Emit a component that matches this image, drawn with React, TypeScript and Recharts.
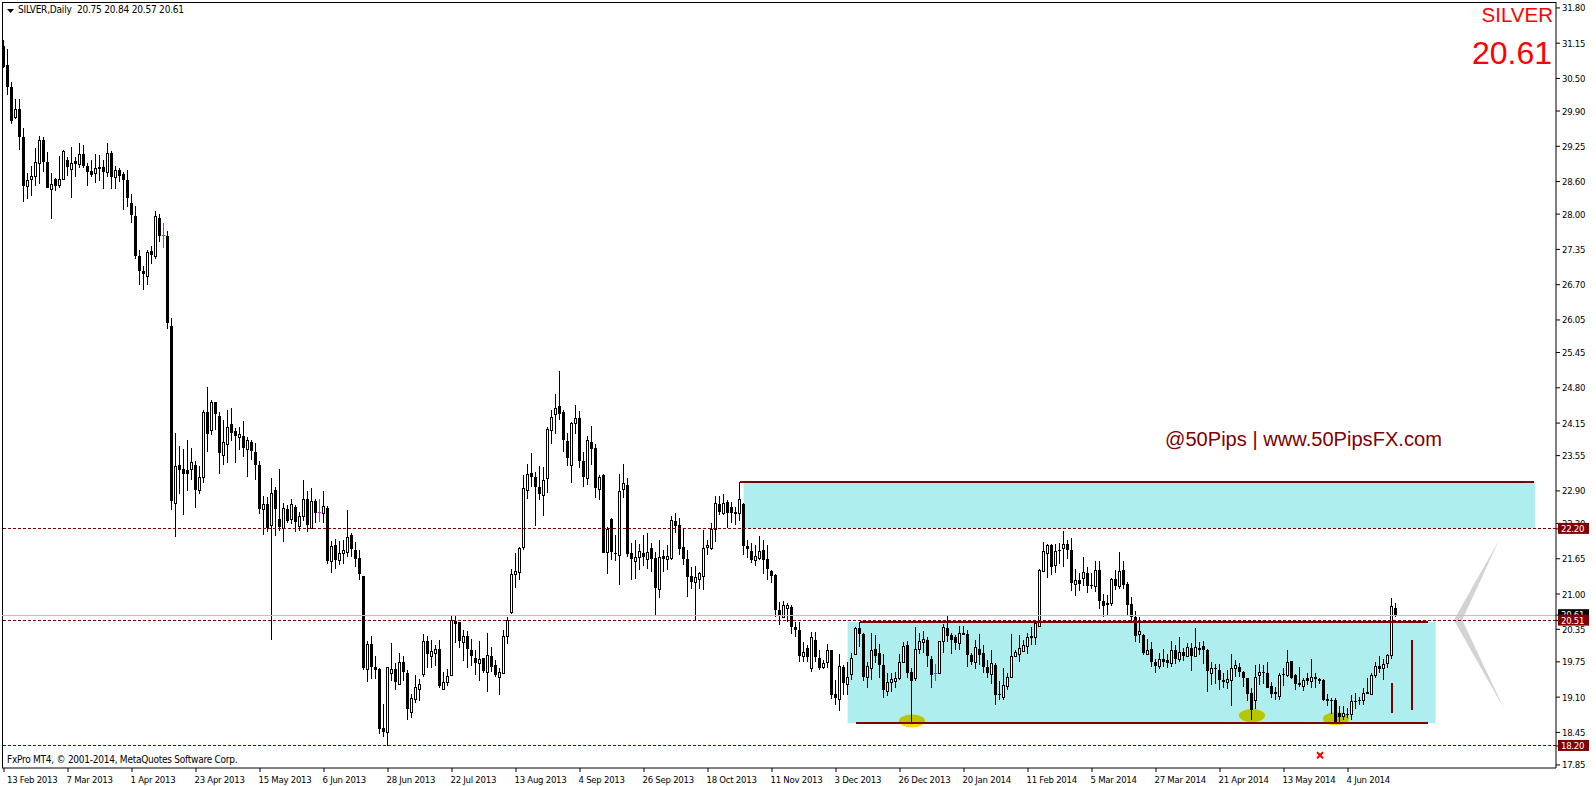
import React from 'react';
import {
  ComposedChart,
  Bar,
  XAxis,
  YAxis,
  ReferenceArea,
  ReferenceDot,
  ReferenceLine,
} from 'recharts';

const opens = [
  31.10,30.75,30.34,29.79,29.93,29.42,28.51,28.64,28.71,28.94,
  29.36,28.96,28.47,28.64,28.54,28.64,29.00,28.84,28.98,28.93,
  29.10,28.89,28.80,28.75,28.86,28.86,28.77,29.13,28.69,28.81,
  28.74,28.63,28.20,27.97,27.23,26.95,26.86,27.32,27.23,27.92,
  27.62,27.60,25.94,22.67,23.37,23.30,23.29,23.31,23.37,22.92,
  23.15,24.35,24.03,24.53,24.28,23.57,23.77,24.13,24.00,23.90,
  23.92,23.68,23.81,23.62,23.38,22.57,22.66,22.27,22.92,22.38,
  22.22,22.56,22.38,22.60,22.26,22.43,22.75,22.22,22.71,22.52,
  22.50,22.58,21.60,21.90,21.62,21.75,21.78,22.09,21.81,21.67,
  21.33,19.61,20.07,19.65,19.62,18.53,18.45,19.55,19.61,19.34,
  19.74,19.54,18.83,19.07,19.25,19.52,20.14,19.85,19.91,19.98,
  19.25,19.37,19.50,20.51,20.49,20.12,20.22,19.96,19.82,19.72,
  19.82,19.57,19.86,19.69,19.48,19.54,20.22,20.66,21.36,21.40,
  21.86,22.91,23.23,23.16,22.97,22.82,23.13,24.02,24.31,24.46,
  24.35,23.82,23.37,24.16,24.24,23.45,23.13,23.80,23.69,22.94,
  23.19,21.78,22.38,21.75,21.71,22.93,23.01,21.75,21.60,21.69,
  21.75,21.65,21.84,21.66,21.10,21.70,21.65,21.67,22.35,22.27,
  21.87,21.65,21.33,21.23,21.27,21.34,21.86,21.84,22.19,22.66,
  22.50,22.70,22.61,22.51,22.49,22.66,21.89,21.79,21.62,21.67,
  21.81,21.64,21.42,21.35,20.71,20.58,20.75,20.76,20.39,20.34,
  19.85,20.00,19.64,20.15,19.82,19.66,19.74,19.96,19.15,19.07,
  19.65,19.35,19.53,19.89,20.37,20.26,19.48,19.63,19.98,19.91,
  19.70,19.22,19.37,19.40,19.46,19.75,20.06,19.56,19.45,19.98,
  20.12,20.15,19.80,19.54,19.54,20.13,20.38,20.24,20.21,20.10,
  20.28,20.26,19.87,19.74,19.98,19.91,19.65,19.53,19.69,19.16,
  19.11,19.31,19.48,19.85,19.90,19.95,20.05,20.20,20.21,20.41,
  21.43,21.76,21.91,21.53,21.81,21.85,21.93,21.82,21.19,21.25,
  21.30,21.39,21.16,21.15,21.44,20.87,20.83,20.84,21.27,21.15,
  21.45,21.19,20.81,20.58,20.26,20.24,19.90,19.98,19.74,19.68,
  19.80,19.78,19.72,19.96,19.81,19.93,19.85,20.01,19.85,20.00,
  20.04,19.97,19.55,19.64,19.60,19.41,19.38,19.42,19.63,19.65,
  19.56,19.45,19.18,19.05,19.50,19.57,19.55,19.30,19.19,19.12,
  19.53,19.51,19.77,19.51,19.36,19.31,19.45,19.40,19.47,19.43,
  19.41,19.06,19.05,19.04,18.80,18.76,18.79,18.78,19.03,19.05,
  19.05,19.19,19.16,19.51,19.67,19.64,19.72,19.88,20.75,
];

const highs = [
  31.21,31.04,30.43,30.13,30.12,29.58,28.75,28.89,29.21,29.44,
  29.42,29.15,28.75,28.66,29.07,29.18,29.05,29.24,29.06,29.32,
  29.27,28.94,29.00,29.10,29.09,29.00,29.31,29.16,28.89,28.85,
  28.78,28.81,28.38,28.15,27.33,27.05,27.33,27.41,28.06,28.00,
  27.83,27.69,26.08,23.96,23.73,23.67,23.84,23.69,23.45,23.36,
  24.39,24.82,24.58,24.54,24.35,24.21,24.39,24.42,24.05,24.07,
  24.19,23.89,23.83,23.78,23.46,22.81,22.78,23.13,22.97,23.30,
  22.67,22.64,22.75,22.64,22.52,23.10,22.90,22.95,22.76,22.75,
  22.90,22.62,21.98,22.01,21.98,22.00,22.55,22.12,21.95,21.81,
  21.33,20.13,20.23,19.86,19.63,18.98,19.66,20.09,19.72,19.91,
  19.86,19.60,19.16,19.51,19.43,20.26,20.23,20.15,20.06,20.15,
  19.57,19.61,20.60,20.60,20.49,20.33,20.32,20.17,19.97,20.13,
  19.82,20.28,20.02,19.79,19.63,20.34,20.58,21.46,21.75,21.86,
  23.19,23.39,23.59,23.25,23.35,23.34,24.07,24.40,24.68,25.11,
  24.40,23.97,24.17,24.48,24.37,23.62,23.91,24.10,23.76,23.19,
  23.21,22.24,22.40,22.09,23.21,23.39,23.13,21.94,22.00,21.92,
  22.09,22.12,21.94,21.77,21.99,21.81,21.90,22.43,22.49,22.40,
  22.20,21.81,21.50,21.52,21.41,22.18,22.00,22.30,22.81,22.81,
  22.84,22.73,22.70,22.61,23.07,22.67,22.00,21.94,21.90,22.06,
  22.00,21.90,21.44,21.37,20.86,20.88,20.83,20.80,20.49,20.48,
  20.11,20.06,20.30,20.30,19.97,19.78,20.07,19.97,19.42,19.90,
  19.70,19.75,19.92,20.39,20.48,20.28,19.74,20.28,20.25,20.08,
  19.89,19.54,19.54,19.57,19.90,20.12,20.13,19.63,20.40,20.28,
  20.31,20.21,19.86,19.71,20.14,20.45,20.60,20.28,20.25,20.41,
  20.41,20.33,19.92,20.15,20.26,20.06,19.78,19.97,19.72,19.40,
  19.63,19.54,20.26,19.97,20.25,20.15,20.28,20.40,20.52,21.46,
  21.95,21.93,21.93,21.92,21.94,22.16,21.99,22.03,21.47,21.38,
  21.69,21.49,21.39,21.60,21.60,21.00,20.98,21.29,21.44,21.77,
  21.61,21.22,20.94,20.69,20.57,20.26,20.18,20.12,19.81,19.91,
  19.98,19.90,20.14,20.06,20.21,20.00,20.09,20.09,20.37,20.12,
  20.13,19.98,19.75,19.71,19.71,19.54,19.60,19.89,19.78,19.72,
  19.59,19.45,19.27,19.69,19.71,19.69,19.74,19.37,19.29,19.54,
  19.63,19.97,19.77,19.53,19.66,19.45,19.55,19.80,19.54,19.46,
  19.43,19.15,19.09,19.08,18.93,18.93,18.90,19.13,19.17,19.11,
  19.26,19.45,19.54,19.74,19.85,19.81,19.89,20.92,20.84,
];

const lows = [
  30.69,30.20,29.66,29.75,29.18,28.23,28.28,28.34,28.51,28.56,
  28.78,28.48,27.91,28.42,28.49,28.63,28.71,28.30,28.69,28.85,
  28.85,28.52,28.69,28.58,28.61,28.47,28.69,28.47,28.47,28.60,
  28.08,28.14,27.84,27.17,26.70,26.60,26.70,27.09,27.17,27.49,
  27.38,25.88,22.55,22.05,22.84,22.46,22.89,23.10,22.59,22.84,
  23.05,23.62,23.93,24.02,23.21,23.38,23.42,23.82,23.42,23.66,
  23.53,23.16,23.47,23.10,22.47,22.09,22.15,20.15,22.06,22.17,
  21.95,22.30,22.29,22.15,22.16,22.35,22.15,22.19,22.30,22.32,
  22.30,21.55,21.39,21.47,21.54,21.55,21.68,21.68,21.50,21.25,
  19.60,19.37,19.43,19.43,18.42,18.37,18.20,19.39,19.23,19.34,
  19.40,18.68,18.71,18.99,19.02,19.48,19.64,19.63,19.68,19.26,
  19.24,19.31,19.49,20.10,20.00,19.77,19.64,19.68,19.51,19.39,
  19.54,19.20,19.56,19.48,19.14,19.52,20.08,20.63,21.12,21.26,
  21.81,22.75,22.97,22.26,22.73,22.43,22.87,23.77,23.95,24.21,
  23.62,23.36,23.05,23.95,23.33,22.98,23.01,23.38,22.77,22.73,
  21.75,21.37,21.62,21.60,21.17,22.77,21.68,21.26,21.27,21.45,
  21.51,21.46,21.41,20.59,20.93,21.41,21.44,21.62,22.12,21.72,
  21.54,20.95,21.09,20.50,21.09,21.08,21.71,21.81,21.95,22.46,
  22.46,22.22,22.30,22.27,22.35,21.72,21.66,21.57,21.52,21.62,
  21.37,21.26,21.21,20.57,20.42,20.56,20.49,20.26,20.20,19.75,
  19.75,19.74,19.57,19.74,19.60,19.62,19.63,19.07,18.95,18.85,
  19.14,19.14,19.42,19.88,20.03,19.40,19.27,19.42,19.72,19.45,
  19.09,19.12,19.20,19.26,19.42,19.72,19.45,18.63,19.40,19.89,
  19.91,19.66,19.27,19.39,19.53,19.91,20.12,19.90,19.96,19.96,
  20.24,19.66,19.69,19.61,19.69,19.54,19.45,19.35,18.96,19.05,
  19.05,19.23,19.47,19.84,19.74,19.95,19.90,20.06,20.06,20.41,
  21.42,21.30,21.35,21.38,21.55,21.50,21.65,21.06,20.97,21.06,
  21.14,21.02,21.09,21.04,20.72,20.58,20.61,20.78,21.07,21.09,
  21.10,20.60,20.49,20.11,20.10,19.87,19.87,19.66,19.55,19.62,
  19.66,19.63,19.66,19.71,19.75,19.77,19.84,19.58,19.84,19.87,
  19.71,19.20,19.32,19.35,19.23,19.26,19.25,18.93,19.48,19.48,
  19.29,19.02,18.67,18.88,19.32,19.35,19.26,19.08,19.04,19.04,
  19.30,19.48,19.44,19.23,19.29,19.21,19.32,19.26,19.26,19.34,
  19.02,18.93,18.79,18.64,18.64,18.68,18.71,18.68,18.88,18.96,
  18.96,19.15,19.15,19.45,19.54,19.42,19.63,19.80,20.57,
];

const closes = [
  30.72,30.35,29.72,29.93,29.43,28.51,28.63,28.71,28.96,29.36,
  28.96,28.49,28.56,28.51,28.64,29.17,28.86,28.94,28.93,29.10,
  28.88,28.77,28.72,28.85,28.84,28.78,29.12,28.69,28.81,28.71,
  28.63,28.30,27.99,27.23,26.96,26.90,27.30,27.25,27.97,27.59,
  27.62,26.00,22.72,23.35,23.29,23.22,23.22,23.43,22.92,23.15,
  24.35,23.94,24.53,24.31,23.60,23.81,24.07,23.97,23.92,23.94,
  23.69,23.83,23.64,23.38,22.57,22.65,22.22,22.87,22.56,22.24,
  22.58,22.35,22.66,22.32,22.44,22.75,22.27,22.71,22.50,22.52,
  22.62,21.60,21.88,21.63,21.75,21.81,22.05,21.83,21.64,21.37,
  19.64,20.07,19.66,19.60,18.51,18.45,19.65,19.61,19.37,19.75,
  19.56,18.89,19.08,19.28,19.34,20.13,19.90,19.95,19.98,19.31,
  19.37,19.49,20.52,20.45,20.14,20.22,19.98,19.85,19.72,19.81,
  19.58,19.87,19.66,19.50,19.56,20.23,20.52,21.37,21.43,21.84,
  22.95,23.21,23.15,22.97,22.85,23.10,24.04,24.27,24.42,24.31,
  23.83,23.50,24.16,24.24,23.46,23.15,23.83,23.68,22.96,23.15,
  21.76,22.19,21.78,21.73,22.89,23.04,21.74,21.64,21.68,21.79,
  21.68,21.77,21.65,21.11,21.68,21.64,21.70,22.36,22.25,21.83,
  21.65,21.32,21.22,21.32,21.38,21.84,21.90,22.19,22.67,22.51,
  22.68,22.50,22.49,22.48,22.75,21.89,21.83,21.63,21.70,21.79,
  21.63,21.46,21.33,20.71,20.60,20.79,20.79,20.39,20.34,19.85,
  19.93,19.84,20.20,19.84,19.64,19.72,19.96,19.14,19.08,19.67,
  19.36,19.48,19.83,20.37,20.26,19.48,19.67,19.96,19.86,19.70,
  19.23,19.37,19.43,19.45,19.74,20.05,19.55,19.39,19.98,20.13,
  20.17,19.85,19.50,19.54,20.13,20.39,20.23,20.15,20.09,20.28,
  20.25,19.88,19.74,20.02,19.88,19.66,19.54,19.72,19.14,19.14,
  19.32,19.47,19.85,19.93,20.00,20.06,20.20,20.23,20.46,21.45,
  21.79,21.90,21.50,21.79,21.79,21.93,21.81,21.21,21.25,21.19,
  21.40,21.15,21.15,21.45,20.88,20.78,20.80,21.27,21.15,21.42,
  21.16,20.80,20.58,20.23,20.31,19.91,19.97,19.74,19.68,19.80,
  19.74,19.72,19.96,19.81,19.94,19.85,20.02,19.85,20.02,19.97,
  19.96,19.58,19.64,19.63,19.42,19.38,19.43,19.63,19.69,19.56,
  19.45,19.16,18.86,19.48,19.57,19.55,19.27,19.16,19.15,19.50,
  19.50,19.74,19.45,19.34,19.33,19.42,19.40,19.48,19.43,19.40,
  19.05,19.02,19.03,18.65,18.73,18.80,18.78,19.02,19.01,19.02,
  19.17,19.16,19.51,19.67,19.62,19.71,19.88,20.77,20.61,
];

const dateLabels = [
  '13 Feb 2013', '7 Mar 2013', '1 Apr 2013', '23 Apr 2013', '15 May 2013', '6 Jun 2013',
  '28 Jun 2013', '22 Jul 2013', '13 Aug 2013', '4 Sep 2013', '26 Sep 2013', '18 Oct 2013',
  '11 Nov 2013', '3 Dec 2013', '26 Dec 2013', '20 Jan 2014', '11 Feb 2014', '5 Mar 2014',
  '27 Mar 2014', '21 Apr 2014', '13 May 2014', '4 Jun 2014',
];

const priceTicks = [
  31.8, 31.15, 30.5, 29.9, 29.25, 28.6, 28.0, 27.35, 26.7, 26.05, 25.45, 24.8,
  24.15, 23.55, 22.9, 22.3, 21.65, 21.0, 20.35, 19.75, 19.1, 18.45, 17.85,
];

// horizontal levels with a flag on the price scale
const supportLevels = [22.2, 20.51, 18.2];
const lastPrice = 20.61;

const BARS_PER_LABEL = 16;
const SLOTS = 388; // room for bars plus the empty space on the right
const PRICE_MIN = 17.794;
const PRICE_MAX = 31.909;

const rows = Array.from({ length: SLOTS }, (_, slot) => ({
  slot,
  open: opens[slot],
  high: highs[slot],
  low: lows[slot],
  close: closes[slot],
  range: slot < opens.length ? [lows[slot], highs[slot]] : null,
}));

const slotTicks = dateLabels.map((_, i) => i * BARS_PER_LABEL);

const Candle = (props: any) => {
  const { x, y, width, height, payload } = props;
  if (!payload || payload.open === undefined) return null;
  const { open, close, high, low } = payload;
  const pxPerPrice = height / (high - low);
  const yOf = (v: number) => Math.round(y + (high - v) * pxPerPrice);
  const left = Math.round(x);
  const top = yOf(Math.max(open, close));
  const bottom = yOf(Math.min(open, close));
  const wickTop = Math.round(y);
  const wickBottom = Math.round(y + height);
  if (open === close) {
    return (
      <g shapeRendering="crispEdges" fill="#ff00ff">
        <rect x={left + 1} y={wickTop} width={1} height={wickBottom - wickTop} />
        <rect x={left} y={top} width={3} height={1} />
      </g>
    );
  }
  const up = close > open;
  return (
    <g shapeRendering="crispEdges">
      <rect x={left + 1} y={wickTop} width={1} height={wickBottom - wickTop} fill="#000" />
      {up ? (
        <rect x={left + 0.5} y={top + 0.5} width={2} height={Math.max(bottom - top, 1)} fill="#fff" stroke="#000" />
      ) : (
        <rect x={left} y={top} width={3} height={Math.max(bottom - top, 1)} fill="#000" />
      )}
    </g>
  );
};

const axisFont = '"DejaVu Sans Condensed", "DejaVu Sans", sans-serif';

const DateTick = ({ x, y, payload }: any) => (
  <text
    x={payload.value === 0 ? x + 3 : x - 1.5}
    y={y + 9}
    fontFamily={axisFont}
    fontSize={9.5}
    letterSpacing={-0.25}
    fill="#000"
    textAnchor="start"
  >
    {dateLabels[payload.value / BARS_PER_LABEL]}
  </text>
);

const PriceTick = ({ x, y, payload }: any) => {
  const value = payload.value as number;
  const flagged = supportLevels.includes(value);
  const isLast = value === lastPrice;
  const textProps = { fontFamily: axisFont, fontSize: 9.5, letterSpacing: -0.25 };
  if (flagged || isLast) {
    return (
      <g>
        <rect x={x - 4} y={y - 6} width={31} height={11} fill={isLast ? '#000' : '#800000'} />
        <text x={x - 1} y={y + 3} {...textProps} fill="#fff">
          {value.toFixed(2)}
        </text>
      </g>
    );
  }
  return (
    <text x={x} y={y + 3.5} {...textProps} fill="#000">
      {value.toFixed(2)}
    </text>
  );
};

const Chevron = ({ x, y, width, height }: any) => (
  <polygon
    points={`${x + 0.9 * width},${y} ${x},${y + 0.473 * height} ${x + width},${y + height} ${x + 0.167 * width},${y + 0.473 * height}`}
    fill="#d3d3d3"
  />
);

// the marker is olive over the turquoise box and gold over the white below it
const Blob = ({ x, y, width, height, cut }: any) => {
  const id = `blob-${Math.round(x)}`;
  const cx = x + width / 2;
  const cy = y + height / 2;
  return (
    <g>
      <ellipse cx={cx} cy={cy} rx={width / 2} ry={height / 2} fill="#ffd700" />
      <clipPath id={id}>
        <rect x={x} y={y} width={width} height={cut} />
      </clipPath>
      <ellipse cx={cx} cy={cy} rx={width / 2} ry={height / 2} fill="#b6c700" clipPath={`url(#${id})`} />
    </g>
  );
};

const RedCross = ({ cx, cy }: any) => (
  <g stroke="#ff0000" strokeWidth={2}>
    <line x1={cx - 3} y1={cy - 3} x2={cx + 3} y2={cy + 3} />
    <line x1={cx + 3} y1={cy - 3} x2={cx - 3} y2={cy + 3} />
  </g>
);

const UPPER_BOX = { x1: 184.9, x2: 382.8, y1: 23.065, y2: 22.217 };
const LOWER_BOX = { x1: 210.9, x2: 357.9, y1: 20.49, y2: 18.62 };

const trendLines = [
  { x1: 183.95, x2: 382.6, y: 23.064 },
  { x1: 213.9, x2: 356.05, y: 20.485 },
  { x1: 212.9, x2: 356.05, y: 18.63 },
];

const stopMarks = [
  { slot: 347, y1: 19.36, y2: 18.81 },
  { slot: 352, y1: 20.15, y2: 18.87 },
];

const blobs = [
  { slot: 227, price: 18.66, cut: 8 },
  { slot: 312, price: 18.76, cut: 13 },
  { slot: 333, price: 18.7, cut: 10 },
];

const label = (css: React.CSSProperties): React.CSSProperties => ({
  position: 'absolute',
  whiteSpace: 'pre',
  lineHeight: 1,
  ...css,
});

export default function App() {
  return (
    <div style={{ position: 'absolute', left: 0, top: 0, width: 1596, height: 786, background: '#fff', overflow: 'hidden' }}>
      <ComposedChart
        width={1596}
        height={786}
        data={rows}
        margin={{ top: 2, left: 2, right: 0, bottom: 0 }}
        barCategoryGap={0}
        barGap={0}
      >
        <XAxis
          dataKey="slot"
          type="category"
          ticks={slotTicks}
          interval={0}
          tick={<DateTick />}
          height={18}
          tickSize={4}
          padding={{ left: 0, right: 2 }}
          stroke="#000"
        />
        <XAxis
          xAxisId="bars"
          type="number"
          dataKey="slot"
          domain={[-0.5, SLOTS - 0.5]}
          padding={{ left: 0, right: 2 }}
          allowDataOverflow
          hide
        />
        <YAxis
          orientation="right"
          type="number"
          width={40}
          domain={[PRICE_MIN, PRICE_MAX]}
          ticks={[...priceTicks, lastPrice, ...supportLevels]}
          interval={0}
          tick={<PriceTick />}
          tickSize={4}
          tickMargin={2}
          allowDataOverflow
          stroke="#000"
        />

        <ReferenceArea xAxisId="bars" {...UPPER_BOX} fill="#afeeee" fillOpacity={1} stroke="none" />
        <ReferenceArea xAxisId="bars" {...LOWER_BOX} fill="#afeeee" fillOpacity={1} stroke="none" />
        <ReferenceArea
          xAxisId="bars"
          x1={362.45}
          x2={375.05}
          y1={21.996}
          y2={18.881}
          shape={<Chevron />}
        />
        {blobs.map((b) => (
          <ReferenceArea
            key={b.slot}
            xAxisId="bars"
            x1={b.slot - 3.25}
            x2={b.slot + 3.25}
            y1={b.price + 0.12}
            y2={b.price - 0.12}
            shape={<Blob cut={b.cut} />}
          />
        ))}

        <ReferenceLine xAxisId="bars" y={PRICE_MAX} stroke="#000" shapeRendering="crispEdges" />
        <ReferenceLine xAxisId="bars" x={-0.5} stroke="#000" shapeRendering="crispEdges" />
        <ReferenceLine xAxisId="bars" y={lastPrice} stroke="#c0c0c0" shapeRendering="crispEdges" />
        {supportLevels.map((level) => (
          <ReferenceLine
            key={level}
            xAxisId="bars"
            y={level}
            stroke="#800000"
            strokeDasharray="3 2"
            shapeRendering="crispEdges"
          />
        ))}

        {trendLines.map((l) => (
          <ReferenceLine
            key={l.y}
            xAxisId="bars"
            segment={[{ x: l.x1, y: l.y }, { x: l.x2, y: l.y }]}
            stroke="#800000"
            strokeWidth={2}
            shapeRendering="crispEdges"
          />
        ))}
        {stopMarks.map((m) => (
          <ReferenceLine
            key={m.slot}
            xAxisId="bars"
            segment={[{ x: m.slot, y: m.y1 }, { x: m.slot, y: m.y2 }]}
            stroke="#800000"
            strokeWidth={2}
            shapeRendering="crispEdges"
          />
        ))}

        <Bar dataKey="range" shape={<Candle />} isAnimationActive={false} />

        <ReferenceDot xAxisId="bars" x={329} y={18.03} shape={<RedCross />} />
      </ComposedChart>

      <svg style={{ position: 'absolute', left: 7, top: 9 }} width={7} height={5}>
        <polygon points="0,0 7,0 3.5,4" fill="#000" />
      </svg>
      <div style={label({ left: 18, top: 5, fontFamily: axisFont, fontSize: 10, letterSpacing: -0.2, color: '#000' })}>
        {'SILVER,Daily  20.75 20.84 20.57 20.61'}
      </div>
      <div style={label({ right: 43, top: 4.5, fontFamily: '"Liberation Sans", Arial, sans-serif', fontSize: 20.5, color: '#ff0000' })}>
        SILVER
      </div>
      <div style={label({ right: 44, top: 36.5, fontFamily: '"Liberation Sans", Arial, sans-serif', fontSize: 32, color: '#ff0000' })}>
        20.61
      </div>
      <div style={label({ left: 1165, top: 429, fontFamily: '"Liberation Sans", Arial, sans-serif', fontSize: 20.1, color: '#800000' })}>
        {'@50Pips | www.50PipsFX.com'}
      </div>
      <div style={label({ left: 7, top: 755, fontFamily: axisFont, fontSize: 10, letterSpacing: -0.25, color: '#000' })}>
        FxPro MT4, © 2001-2014, MetaQuotes Software Corp.
      </div>
    </div>
  );
}
